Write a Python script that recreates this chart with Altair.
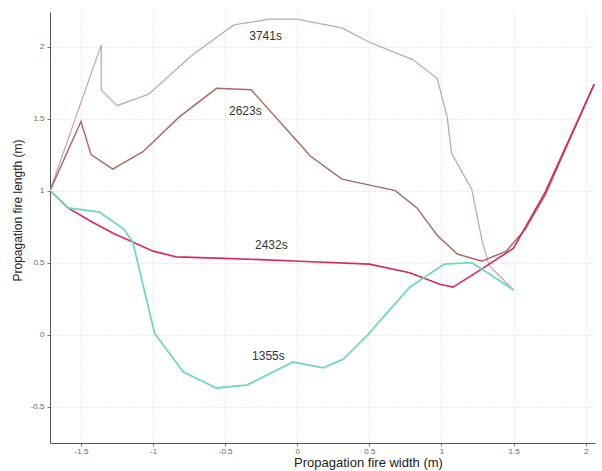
import altair as alt
import pandas as pd

# Propagation front outlines at four times (width x, length y, in metres)
x_3741 = [-1.715, -1.36, -1.36, -1.25, -1.03, -0.73, -0.44, -0.19, 0.0, 0.10, 0.31, 0.50, 0.80, 0.97, 1.04, 1.07, 1.21, 1.28, 1.33, 1.50]
y_3741 = [1.00, 2.01, 1.70, 1.59, 1.67, 1.94, 2.15, 2.19, 2.19, 2.17, 2.13, 2.03, 1.91, 1.78, 1.51, 1.26, 1.01, 0.66, 0.48, 0.31]

x_2623 = [-1.715, -1.50, -1.43, -1.28, -1.07, -0.82, -0.56, -0.32, 0.02, 0.09, 0.31, 0.68, 0.83, 0.97, 1.11, 1.28, 1.45, 1.58, 1.72, 2.06]
y_2623 = [1.00, 1.48, 1.25, 1.15, 1.27, 1.51, 1.71, 1.70, 1.32, 1.24, 1.08, 1.00, 0.88, 0.69, 0.56, 0.51, 0.58, 0.73, 0.97, 1.74]

x_2432 = [-1.715, -1.59, -1.42, -1.27, -1.18, -1.00, -0.84, -0.50, 0.02, 0.50, 0.78, 0.99, 1.08, 1.27, 1.50, 1.72, 2.06]
y_2432 = [1.00, 0.88, 0.78, 0.70, 0.66, 0.58, 0.54, 0.53, 0.51, 0.49, 0.43, 0.35, 0.33, 0.45, 0.60, 0.99, 1.74]

x_1355 = [-1.715, -1.59, -1.37, -1.20, -1.14, -0.99, -0.79, -0.56, -0.35, -0.03, 0.18, 0.32, 0.49, 0.78, 1.02, 1.21, 1.32, 1.50]
y_1355 = [1.00, 0.88, 0.85, 0.73, 0.64, 0.01, -0.26, -0.37, -0.35, -0.19, -0.23, -0.17, 0.00, 0.33, 0.49, 0.50, 0.43, 0.31]

series_names = ["3741s", "2623s", "2432s", "1355s"]
series_colors = ["#c6a7a9", "#aa6a60", "#d8285e", "#6dd8c3"]
series_widths = [1.3, 1.8, 2.3, 1.5]

label_text = ["3741s", "2623s", "2432s", "1355s"]
label_x = [-0.22, -0.36, -0.18, -0.20]
label_y = [2.07, 1.55, 0.62, -0.15]

x_ticks = [-1.5, -1, -0.5, 0, 0.5, 1, 1.5, 2]
y_ticks = [-0.5, 0, 0.5, 1, 1.5, 2]

rows = []
for name, xs, ys in zip(series_names,
                        [x_3741, x_2623, x_2432, x_1355],
                        [y_3741, y_2623, y_2432, y_1355]):
    for i, (a, b) in enumerate(zip(xs, ys)):
        rows.append({"series": name, "idx": i, "x": a, "y": b})
df = pd.DataFrame(rows)
labels = pd.DataFrame({"text": label_text, "x": label_x, "y": label_y})

x_scale = alt.Scale(domain=[-1.715, 2.065], nice=False, zero=False)
y_scale = alt.Scale(domain=[-0.752, 2.24], nice=False, zero=False)

x_axis = alt.Axis(values=x_ticks, title="Propagation fire width (m)",
                  labelExpr="datum.value + ''", labelFontSize=8, labelColor="#666",
                  titleFontSize=13, titleFontWeight="normal", titleColor="#222",
                  titlePadding=1, titleX=318, titleAlign="center",
                  domainColor="#555", tickColor="#777", tickSize=3,
                  gridColor="#d4d4d4", gridDash=[1, 2], labelPadding=1)
y_axis = alt.Axis(values=y_ticks, title="Propagation fire length (m)",
                  labelExpr="datum.value + ''", labelFontSize=8, labelColor="#666",
                  titleFontSize=12, titleFontWeight="normal", titleColor="#222",
                  titlePadding=6, titleY=198, titleAlign="center",
                  domainColor="#555", tickColor="#777", tickSize=3,
                  gridColor="#d4d4d4", gridDash=[1, 2], labelPadding=3)

lines = alt.Chart(df).mark_line(clip=True).encode(
    x=alt.X("x:Q", scale=x_scale, axis=x_axis),
    y=alt.Y("y:Q", scale=y_scale, axis=y_axis),
    color=alt.Color("series:N", scale=alt.Scale(domain=series_names, range=series_colors), legend=None),
    strokeWidth=alt.StrokeWidth("series:N", scale=alt.Scale(domain=series_names, range=series_widths), legend=None),
    order="idx:Q",
    detail="series:N",
)

text = alt.Chart(labels).mark_text(fontSize=12, color="#333", font="Liberation Sans").encode(
    x=alt.X("x:Q", scale=x_scale),
    y=alt.Y("y:Q", scale=y_scale),
    text="text:N",
)

chart = alt.layer(lines, text).properties(
    width=545, height=431,
    autosize=alt.AutoSizeParams(type="none"),
    padding={"left": 50, "top": 12, "right": 7, "bottom": 28},
).configure_view(stroke=None).configure_axis(
    labelFont="Liberation Sans", titleFont="Liberation Sans"
)

chart.save("out.html", embed_options={"renderer": "svg", "actions": False})
